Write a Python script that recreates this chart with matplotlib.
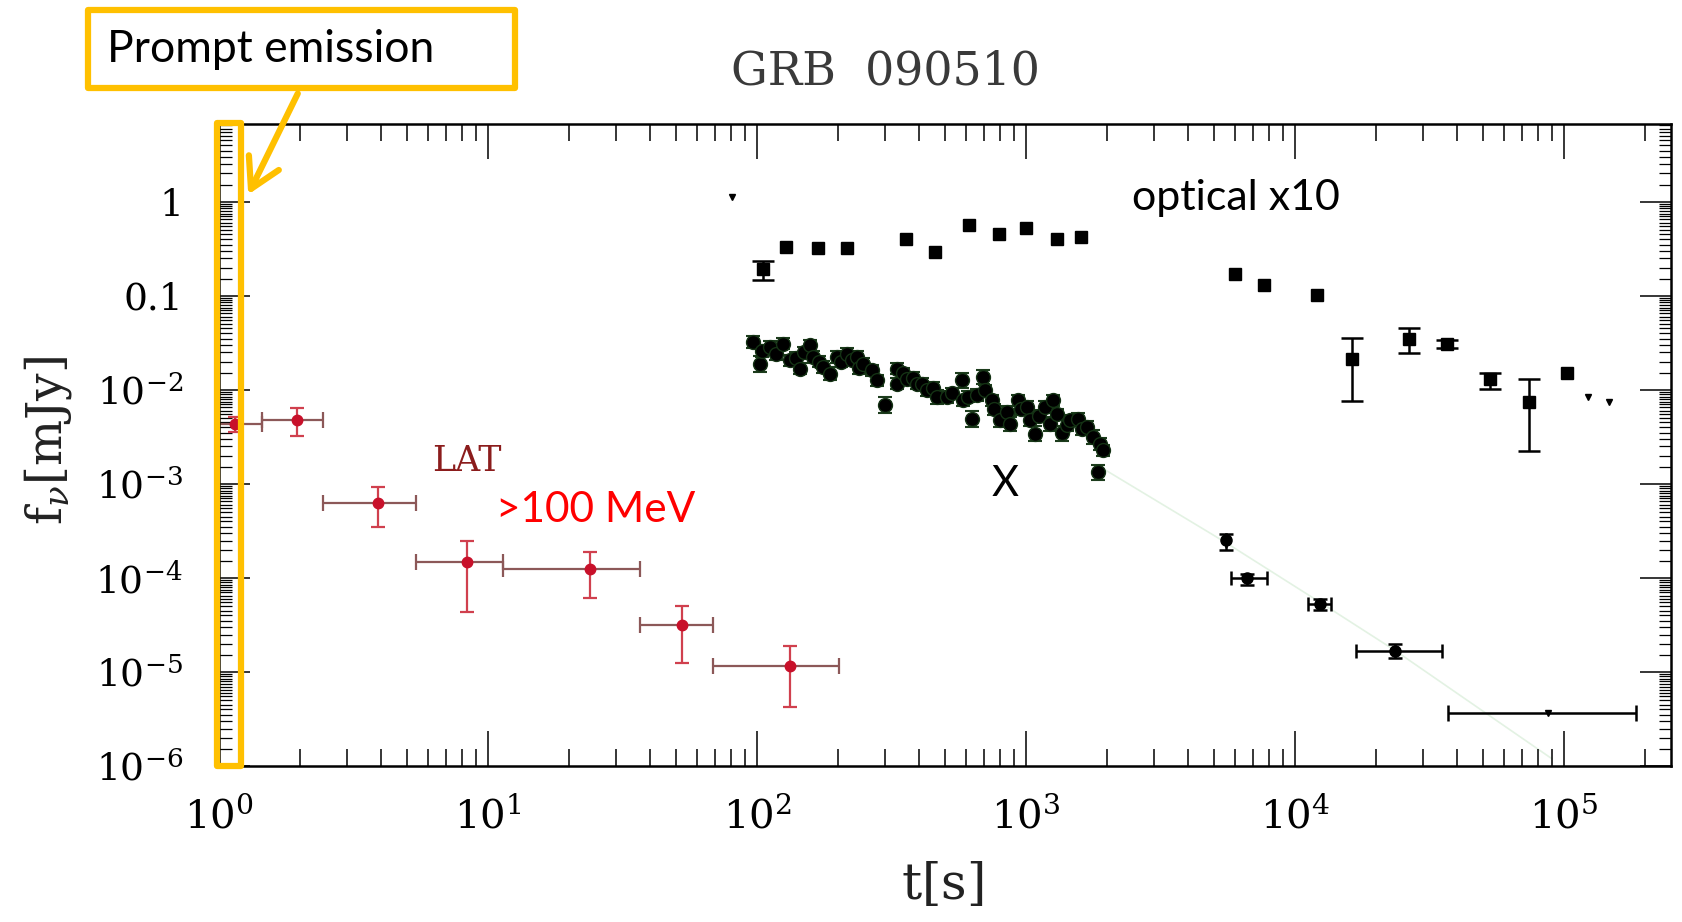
import numpy as np
import matplotlib
matplotlib.use("Agg")
import matplotlib.pyplot as plt
from matplotlib.ticker import LogLocator, NullFormatter, FixedLocator, FixedFormatter
from matplotlib.patches import Rectangle, FancyArrowPatch

plt.rcParams['mathtext.fontset'] = 'dejavuserif'
plt.rcParams['font.family'] = ['DejaVu Serif']

# ---------------- data ----------------
# LAT >100 MeV (red)
lat_t = [1.15, 1.95, 3.9, 8.34, 23.9, 52.5, 133]
lat_t_lo = [1.0, 1.45, 2.44, 5.41, 11.33, 36.7, 68.9]
lat_t_hi = [1.45, 2.44, 5.41, 11.33, 36.7, 68.9, 201]
lat_f = [4.3e-3, 4.81e-3, 6.23e-4, 1.47e-4, 1.23e-4, 3.18e-5, 1.16e-5]
lat_f_lo = [3.6e-3, 3.2e-3, 3.46e-4, 4.3e-5, 6.12e-5, 1.26e-5, 4.26e-6]
lat_f_hi = [5.2e-3, 6.46e-3, 9.2e-4, 2.45e-4, 1.87e-4, 5.07e-5, 1.9e-5]

# optical x10 (black squares)
opt_t = [105.5, 128, 168, 217, 357, 460, 615, 794, 1000, 1300, 1597,
         6000, 7690, 12100, 16300, 26500, 36700, 53100, 74200, 102800]
opt_f = [0.195, 0.332, 0.324, 0.324, 0.398, 0.294, 0.565, 0.46, 0.529, 0.398, 0.424,
         0.171, 0.130, 0.101, 0.0214, 0.0345, 0.0311, 0.0132, 0.00741, 0.0152]
opt_f_lo = [0.147, 0.332, 0.324, 0.324, 0.398, 0.294, 0.565, 0.46, 0.529, 0.398, 0.424,
            0.171, 0.130, 0.101, 0.0077, 0.0249, 0.028, 0.0102, 0.00225, 0.0152]
opt_f_hi = [0.233, 0.332, 0.324, 0.324, 0.398, 0.294, 0.565, 0.46, 0.529, 0.398, 0.424,
            0.171, 0.130, 0.101, 0.0352, 0.0456, 0.034, 0.0152, 0.0132, 0.0152]
# optical upper limits
opt_ul_t = [81, 122800, 147000]
opt_ul_f = [1.13, 0.00844, 0.00741]

# X-ray (XRT) dense part
xr_t = [96.9, 102.6, 104, 111.8, 118, 125.3, 132.7, 140, 144.5, 150, 157.4, 162, 170,
        176.4, 186.8, 197.8, 205, 215.6, 225, 234.8, 240, 248.5, 267, 278.6, 299.2,
        330.6, 330.6, 350, 360.2, 380, 392.5, 410, 427.5, 450, 465.6, 507.3, 530,
        576.8, 584.8, 610, 628.5, 660, 693.8, 704, 745.6, 760, 800.7, 850, 871.9,
        936.3, 960, 1006, 1035, 1080, 1120, 1177, 1228, 1263, 1300, 1357, 1420,
        1457, 1565, 1620, 1682, 1779, 1857, 1884, 1939]
xr_f = [0.0323, 0.0190, 0.026, 0.0286, 0.024, 0.0310, 0.0206, 0.022, 0.0168, 0.025,
        0.0298, 0.0223, 0.020, 0.0175, 0.0149, 0.0223, 0.020, 0.0243, 0.021, 0.0223,
        0.017, 0.0190, 0.0161, 0.0126, 0.00684, 0.0168, 0.01164, 0.015, 0.01316,
        0.0135, 0.01164, 0.0115, 0.00988, 0.0105, 0.00838, 0.00838, 0.0092, 0.0126,
        0.00773, 0.0085, 0.00493, 0.0088, 0.01369, 0.00988, 0.00773, 0.0062, 0.00473,
        0.0058, 0.00436, 0.00773, 0.0062, 0.00656, 0.00473, 0.00342, 0.0053, 0.00656,
        0.00436, 0.00773, 0.0055, 0.00344, 0.0042, 0.00473, 0.00493, 0.0038, 0.00402,
        0.00314, 0.00133, 0.00267, 0.00227]
xr_rel = [0.15, 0.22, 0.15, 0.15, 0.15, 0.15, 0.15, 0.15, 0.15, 0.15,
          0.15, 0.15, 0.15, 0.15, 0.18, 0.15, 0.15, 0.15, 0.15, 0.15,
          0.15, 0.15, 0.15, 0.15, 0.22, 0.15, 0.15, 0.15, 0.15, 0.15,
          0.15, 0.15, 0.15, 0.15, 0.18, 0.15, 0.15, 0.2, 0.15, 0.15,
          0.22, 0.15, 0.2, 0.15, 0.15, 0.15, 0.18, 0.15, 0.18, 0.15,
          0.15, 0.15, 0.15, 0.2, 0.15, 0.15, 0.18, 0.15, 0.15, 0.2,
          0.15, 0.15, 0.15, 0.15, 0.15, 0.18, 0.2, 0.15, 0.15]

# X-ray late points
xl_t = [5530, 6650, 12400, 23500]
xl_t_lo = [5530, 5760, 11200, 16900]
xl_t_hi = [5530, 7850, 13600, 35200]
xl_f = [2.51e-4, 9.9e-5, 5.3e-5, 1.68e-5]
xl_f_lo = [2.0e-4, 8.5e-5, 4.6e-5, 1.4e-5]
xl_f_hi = [2.9e-4, 1.1e-4, 5.9e-5, 2.0e-5]
# X-ray upper limit
xul_t = [87100]
xul_t_lo = [37000]
xul_t_hi = [184500]
xul_f = [3.67e-6]

# faint model curve
model_t = [1900, 5500, 12400, 23500, 90000]
model_f = [1.5e-3, 2.4e-4, 5.5e-5, 1.7e-5, 1.2e-6]

x_ticks = [1, 10, 100, 1000, 1e4, 1e5]
x_tick_labels = [r'$10^{0}$', r'$10^{1}$', r'$10^{2}$', r'$10^{3}$', r'$10^{4}$', r'$10^{5}$']
y_ticks = [1e-6, 1e-5, 1e-4, 1e-3, 1e-2, 0.1, 1]
y_tick_labels = [r'$10^{-6}$', r'$10^{-5}$', r'$10^{-4}$', r'$10^{-3}$', r'$10^{-2}$', '0.1', '1']

# ---------------- figure ----------------
W, H = 1682, 922
fig = plt.figure(figsize=(W / 100, H / 100), dpi=100)
ax = fig.add_axes([219 / W, 1 - 766 / H, (1671 - 219) / W, (766 - 124) / H])
ax.set_xscale('log')
ax.set_yscale('log')
ax.set_xlim(1, 2.5e5)
ax.set_ylim(1e-6, 6.72)

def arr(a):
    return np.asarray(a, dtype=float)

# model
ax.plot(model_t, model_f, color='#e3f2e3', lw=1.2, zorder=1)

# LAT
lt, lf = arr(lat_t), arr(lat_f)
ax.errorbar(lt, lf, xerr=[lt - arr(lat_t_lo), arr(lat_t_hi) - lt], fmt='none',
            ecolor='#8c5858', elinewidth=1.6, capsize=6, capthick=1.6, zorder=2)
ax.errorbar(lt, lf, yerr=[lf - arr(lat_f_lo), arr(lat_f_hi) - lf], fmt='none',
            ecolor='#d0404e', elinewidth=1.6, capsize=5, capthick=1.6, zorder=2)
ax.plot(lt, lf, 'o', color='#c8102a', ms=7.5, mec='#c8102a', zorder=3)

# optical
ot, of = arr(opt_t), arr(opt_f)
olo, ohi = arr(opt_f_lo), arr(opt_f_hi)
m = (ohi > of) | (olo < of)
ax.errorbar(ot[m], of[m], yerr=[of[m] - olo[m], ohi[m] - of[m]], fmt='none',
            ecolor='black', elinewidth=1.8, capsize=8, capthick=1.8, zorder=3)
ax.plot(ot, of, 's', color='black', ms=8, zorder=4)
ax.plot(opt_ul_t, opt_ul_f, 'v', color='black', ms=5, zorder=4)

# X-ray dense
xt, xf, xrel = arr(xr_t), arr(xr_f), arr(xr_rel)
ax.errorbar(xt, xf, yerr=[xf * xrel / (1 + xrel), xf * xrel], fmt='none',
            ecolor='#1d3d1d', elinewidth=1.5, capsize=5, capthick=1.5, zorder=3)
ax.plot(xt, xf, 'o', color='black', mec='#143214', ms=10, zorder=4)

# X-ray late
kt, kf = arr(xl_t), arr(xl_f)
ax.errorbar(kt, kf, xerr=[kt - arr(xl_t_lo), arr(xl_t_hi) - kt],
            yerr=[kf - arr(xl_f_lo), arr(xl_f_hi) - kf], fmt='o', color='black',
            ms=8, ecolor='black', elinewidth=1.8, capsize=5, capthick=1.8, zorder=4)
ut = arr(xul_t)
ax.errorbar(ut, xul_f, xerr=[ut - arr(xul_t_lo), arr(xul_t_hi) - ut], fmt='v',
            color='black', ms=5, ecolor='black', elinewidth=1.8, capsize=6,
            capthick=1.8, zorder=4)

# ticks
ax.xaxis.set_major_locator(FixedLocator(x_ticks))
ax.xaxis.set_major_formatter(FixedFormatter(x_tick_labels))
ax.xaxis.set_minor_locator(LogLocator(base=10, subs=np.arange(2, 10), numticks=20))
ax.xaxis.set_minor_formatter(NullFormatter())
ax.yaxis.set_major_locator(FixedLocator(y_ticks))
ax.yaxis.set_major_formatter(FixedFormatter(y_tick_labels))
ax.yaxis.set_minor_locator(LogLocator(base=10, subs=np.arange(1.5, 10, 0.5), numticks=30))
ax.yaxis.set_minor_formatter(NullFormatter())

ax.tick_params(axis='both', which='both', direction='in', top=True, right=True,
               colors='black', width=1.1)
ax.tick_params(axis='x', which='major', length=25, pad=22, labelsize=29)
ax.tick_params(axis='x', which='minor', length=12)
ax.tick_params(axis='y', which='major', length=22, pad=26, labelsize=27)
ax.tick_params(axis='y', which='minor', length=9, width=0.9)
for sp in ax.spines.values():
    sp.set_linewidth(1.8)

# labels / title
fig.text(942 / W, 1 - 885 / H, r'$\mathrm{t[s]}$', ha='center', va='center',
         fontsize=36, color='#222222')
fig.text(48 / W, 1 - 440 / H, r'$\mathrm{f}_{\nu}\mathrm{[mJy]}$', ha='center',
         va='center', rotation=90, fontsize=35, color='#222222')
fig.text(885 / W, 1 - 72 / H, 'GRB  090510', ha='center', va='center',
         fontsize=33, color='#3a3a3a')
ax.text(0.171, 0.475, 'LAT', transform=ax.transAxes, ha='center', va='center',
        fontsize=25, color='#8b1c1c')

# overlaid annotations
sans = ['Lato', 'DejaVu Sans']
orange = '#FFC000'
fig.text(1132 / W, 1 - 198 / H, 'optical x10', ha='left', va='center',
         fontsize=31, family=sans, color='black')
fig.text(1005 / W, 1 - 484 / H, 'X', ha='center', va='center',
         fontsize=30, family=sans, color='black')
fig.text(496 / W, 1 - 510 / H, '>100 MeV', ha='left', va='center',
         fontsize=30.5, family=sans, color='#FF0000')

def fx(x):
    return x / W

def fy(y):
    return 1 - y / H

# vertical box around prompt emission
fig.patches.append(Rectangle((fx(217), fy(766)), fx(241) - fx(217), fy(123) - fy(766),
                             transform=fig.transFigure, fill=False, ec=orange,
                             lw=4.5, joinstyle='round', zorder=10))
# label box
fig.patches.append(Rectangle((fx(88), fy(88)), fx(515) - fx(88), fy(10) - fy(88),
                             transform=fig.transFigure, fc='white', ec=orange,
                             lw=4.5, joinstyle='round', zorder=10))
fig.text(107 / W, 1 - 50 / H, 'Prompt emission', ha='left', va='center',
         fontsize=32, family=sans, color='black', zorder=11)
arrow = FancyArrowPatch((fx(299), fy(91)), (fx(247), fy(197)), transform=fig.transFigure,
                        arrowstyle='->,head_length=14,head_width=8', color=orange,
                        lw=4.5, mutation_scale=1.5, zorder=10)
fig.patches.append(arrow)

fig.savefig('out.png', dpi=100)
